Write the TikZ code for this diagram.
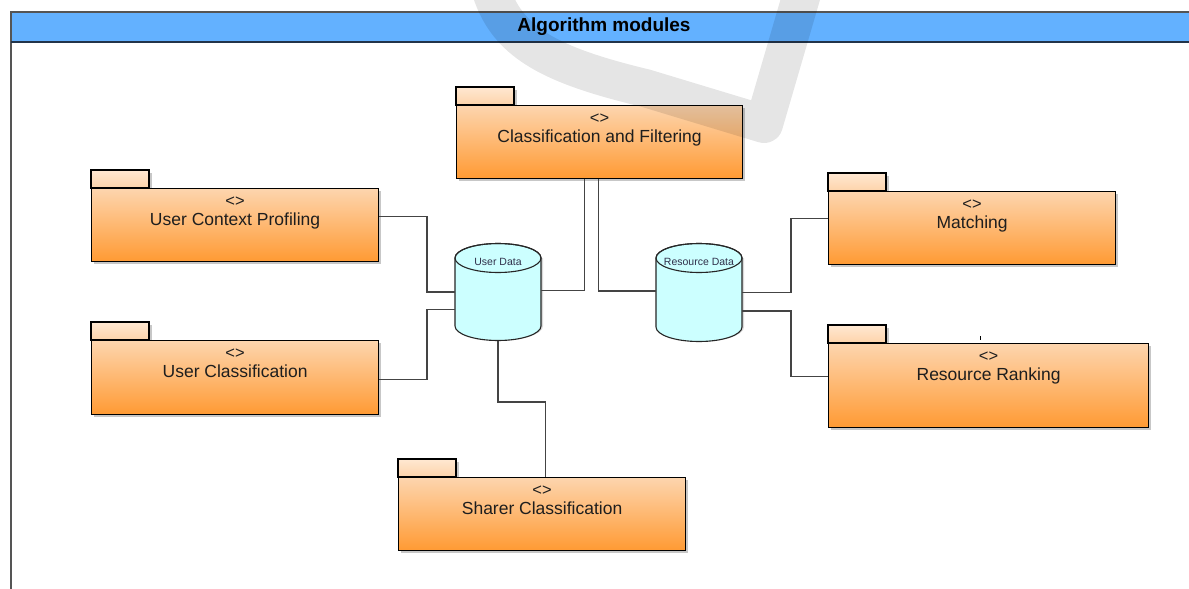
\documentclass[tikz,border=0pt]{standalone}
\usepackage{fontspec}
\setmainfont{Liberation Sans}
\usetikzlibrary{calc}
\definecolor{barblue}{HTML}{63B1FF}
\definecolor{framegray}{HTML}{555555}
\definecolor{pkgtop}{HTML}{FDD5AE}
\definecolor{pkgbot}{HTML}{FF9A33}
\definecolor{tabtop}{HTML}{FFE8D2}
\definecolor{tabbot}{HTML}{FDD3AA}
\definecolor{cylfill}{HTML}{CCFFFF}
\definecolor{linegray}{HTML}{444444}
\definecolor{inkdark}{HTML}{1E1E1E}
\definecolor{dbtext}{HTML}{30304A}
\definecolor{barline}{HTML}{22344A}
\tikzset{
  pkgbody/.style={draw=black, line width=1.2pt, rectangle, inner sep=0pt,
    anchor=north west, top color=pkgtop, bottom color=pkgbot},
  pkgtab/.style={draw=black, line width=1.2pt, top color=tabtop, bottom color=tabbot},
  pkgshadow/.style={fill=black!22},
  stereo/.style={anchor=base, inner sep=0pt, text=inkdark,
    font=\fontsize{16.5}{18}\selectfont},
  pkgname/.style={anchor=base, inner sep=0pt, text=inkdark,
    font=\fontsize{17.5}{20}\selectfont},
  dblabel/.style={inner sep=0pt, text=dbtext, font=\fontsize{10.5}{12}\selectfont},
  conn/.style={draw=linegray, line width=1.5pt},
  cylbox/.style={inner sep=0pt, minimum width=86pt, minimum height=97pt}
}
% package: name, left, top, right, bottom, text
\newcommand{\umlpackage}[6]{%
  \fill[pkgshadow] (#2+3,#3-18+3) rectangle (#2+58+3,#3);
  \fill[pkgshadow] (#2+3,#3+3) rectangle (#4+3,#5+3);
  \draw[pkgtab] (#2,#3-18) rectangle (#2+58,#3);
  \node[pkgbody, minimum width=#4-#2, minimum height=#5-#3] (#1) at (#2,#3) {};
  \node[stereo] at ([yshift=-18pt]#1.north) {<>};
  \node[pkgname] at ([yshift=-37pt]#1.north) {#6};
}
% cylinder: name, centre x, top ellipse y, bottom ellipse y, text
\newcommand{\datastore}[5]{%
  \fill[black!15] (#2-43+2,#3) -- (#2-43+2,#4) arc[start angle=180,end angle=0,x radius=43,y radius=14.5] -- (#2+43+2,#3) -- cycle;
  \filldraw[fill=cylfill, draw=black!85, line width=1.1pt]
    (#2-43,#3) -- (#2-43,#4) arc[start angle=180,end angle=0,x radius=43,y radius=14.5]
    -- (#2+43,#3) arc[start angle=0,end angle=-180,x radius=43,y radius=14.5] -- cycle;
  \draw[black!85, line width=1.1pt] (#2,#3) ellipse[x radius=43, y radius=14.5];
  \node[cylbox] (#1) at (#2,{(#3+#4)/2}) {};
  \node[dblabel] at (#2,#3+4) {#5};
}
\begin{document}
\begin{tikzpicture}[x=1pt,y=-1pt]
\useasboundingbox (0,0) rectangle (1189,589);
\clip (0,0) rectangle (1189,589);
\fill[white] (0,0) rectangle (1189,589);

% diagram frame and title bar
\fill[barblue] (11,12) rectangle (1200,42);
\draw[framegray, line width=2pt] (11,600) -- (11,12) -- (1200,12);
\draw[barline, line width=1.6pt] (11,42) -- (1200,42);
\node[inner sep=0pt, text=black, font=\bfseries\fontsize{19}{22}\selectfont] (title) at (604,27) {Algorithm modules};

% data stores
\datastore{ud}{498}{258}{326}{User Data}
\datastore{rd}{699}{258}{327}{Resource Data}

% packages
\umlpackage{ucp}{91}{188}{378}{261}{User Context Profiling}
\umlpackage{uc}{91}{340}{378}{414}{User Classification}
\umlpackage{cf}{456}{105}{742}{178}{Classification and Filtering}
\umlpackage{mat}{828}{191}{1115}{264}{Matching}
\umlpackage{rr}{828}{343}{1148}{427}{Resource Ranking}
\umlpackage{sh}{398}{477}{685}{550}{Sharer Classification}

% connectors
\draw[conn] ([yshift=-28.5pt]ucp.north east) -| ($(ud.west)+(-28,0)$) -- (ud.west);
\draw[conn] ([yshift=-2pt]uc.east) -| ($(ud.west)+(-28,17.5)$) -- ([yshift=-17.5pt]ud.west);
\draw[conn] ([xshift=-15pt]cf.south) |- ([yshift=1.5pt]ud.east);
\draw[conn] ([xshift=-1pt]cf.south) |- ([yshift=1.5pt]rd.west);
\draw[conn] (rd.east) -| ($(mat.west)+(-37,-9.5)$) -- ([yshift=9.5pt]mat.west);
\draw[conn] ([yshift=-18.5pt]rd.east) -| ($(rr.west)+(-37,-9)$) -- ([yshift=9pt]rr.west);
\draw[conn] (ud.south) |- ($(sh.north)+(3.5,-75)$) -- ([xshift=3.5pt]sh.north);

% small tick above the ranking package
\draw[black, line width=1pt] (980,336) -- (980,340);

% grey watermark stroke
\draw[black, opacity=0.1, line width=38pt, line join=round, line cap=butt]
  (488,-20) .. controls (502,40) and (545,64) .. (645,88)
  -- (764,124) -- (806,-20);
\end{tikzpicture}
\end{document}
